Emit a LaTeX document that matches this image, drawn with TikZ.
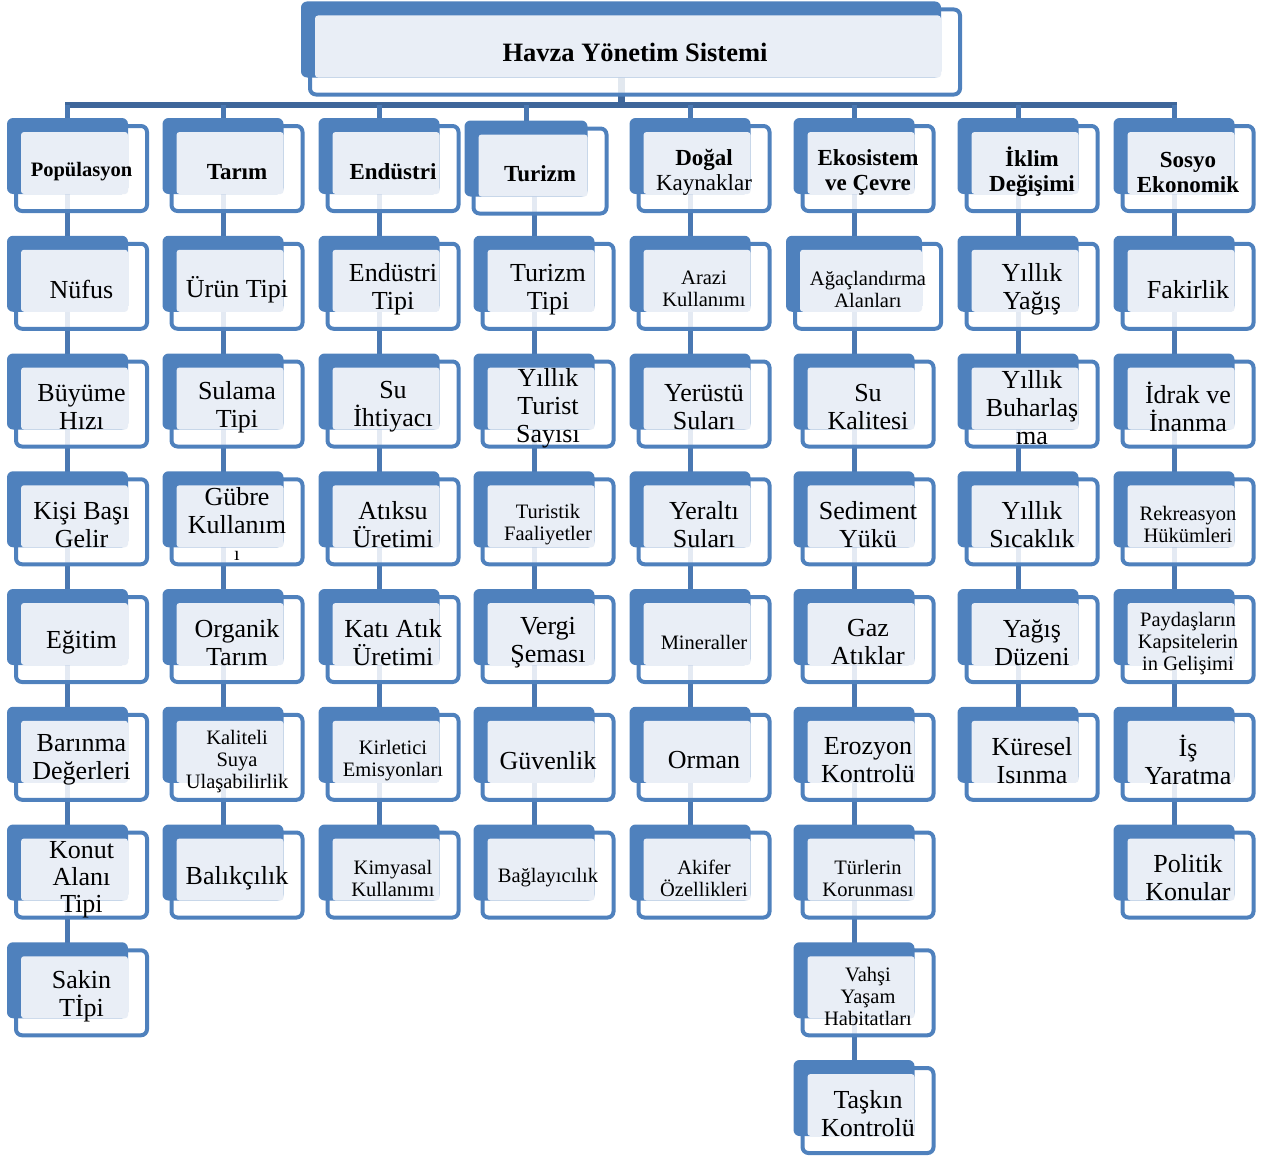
\documentclass[tikz,border=0pt]{standalone}
\usepackage{fontspec}
\setmainfont{Liberation Serif}
\usetikzlibrary{calc}
\definecolor{boxblue}{RGB}{79,129,189}
\definecolor{paleblue}{RGB}{233,238,246}
\definecolor{linkblue}{RGB}{74,120,178}
\definecolor{busblue}{RGB}{62,102,154}
\pgfdeclarelayer{lines}
\pgfdeclarelayer{outl}
\pgfdeclarelayer{back}
\pgfdeclarelayer{light}
\pgfsetlayers{lines,outl,back,light,main}
\tikzset{
  boxnode/.style={inner sep=0pt, align=center, text=black},
  bigtxt/.style={font=\fontsize{26}{28}\selectfont},
  smalltxt/.style={font=\fontsize{20.5}{22}\selectfont},
  headtxt/.style={font=\bfseries\fontsize{23}{25}\selectfont},
  framebox/.style={draw=boxblue, line width=4pt, fill=white, fill opacity=0.85, rounded corners=6pt},
  backfill/.style={fill=boxblue, rounded corners=6pt},
  lightfill/.style={fill=paleblue, rounded corners=3pt},
  conn/.style={draw=linkblue, line width=5pt},
  busline/.style={draw=busblue, line width=5.5pt}
}
% one box: [text drop], name, centre x, centre y, half width, text style, text
\newcommand\cellbox[7][3]{%
  \node[boxnode, #6] (#2) at (#3,#4+#1) {#7};
  \begin{pgfonlayer}{outl}
    \draw[framebox] (#3-#5,#4-42.5) rectangle (#3+#5,#4+42.5);
  \end{pgfonlayer}
  \begin{pgfonlayer}{back}
    \fill[backfill] (#3-#5-9,#4-50.5) rectangle (#3+#5-19,#4+25.5);
  \end{pgfonlayer}
  \begin{pgfonlayer}{light}
    \fill[lightfill] (#3-#5+5,#4-36.5) rectangle (#3+#5-19,#4+25.5);
  \end{pgfonlayer}
}
\begin{document}
\begin{tikzpicture}[x=1pt, y=-1pt]
\useasboundingbox (0,0) rectangle (1268,1156);

% title
\cellbox[0]{top}{635}{52}{325}{font=\bfseries\fontsize{26.5}{28}\selectfont}{Havza Yönetim Sistemi}

% column 1
\cellbox[3.5]{p0}{81.5}{168.5}{65.5}{font=\bfseries\fontsize{20.5}{24}\selectfont}{Popülasyon}
\cellbox{p1}{81.5}{286.25}{65.5}{bigtxt}{Nüfus}
\cellbox{p2}{81.5}{404}{65.5}{bigtxt}{Büyüme\\Hızı}
\cellbox{p3}{81.5}{521.75}{65.5}{bigtxt}{Kişi Başı\\Gelir}
\cellbox{p4}{81.5}{639.5}{65.5}{bigtxt}{Eğitim}
\cellbox{p5}{81.5}{757.25}{65.5}{bigtxt}{Barınma\\Değerleri}
\cellbox[4.5]{p6}{81.5}{875}{65.5}{font=\fontsize{26}{27}\selectfont}{Konut\\Alanı\\Tipi}
\cellbox{p7}{81.5}{992.75}{65.5}{bigtxt}{Sakin\\Tİpi}

% column 2
\cellbox[3.5]{t0}{237}{168.5}{65.5}{headtxt}{Tarım}
\cellbox{t1}{237}{286.25}{65.5}{bigtxt}{Ürün Tipi}
\cellbox{t2}{237}{404}{65.5}{bigtxt}{Sulama\\Tipi}
\cellbox[2.5]{t3}{237}{521.75}{65.5}{font=\fontsize{26}{27.5}\selectfont}{Gübre\\Kullanım\\{\fontsize{20}{20}\selectfont ı}}
\cellbox{t4}{237}{639.5}{65.5}{bigtxt}{Organik\\Tarım}
\cellbox[4]{t5}{237}{757.25}{65.5}{smalltxt}{Kaliteli\\Suya\\Ulaşabilirlik}
\cellbox{t6}{237}{875}{65.5}{bigtxt}{Balıkçılık}

% column 3
\cellbox[3.5]{e0}{393}{168.5}{65.5}{headtxt}{Endüstri}
\cellbox{e1}{393}{286.25}{65.5}{bigtxt}{Endüstri\\Tipi}
\cellbox{e2}{393}{404}{65.5}{bigtxt}{Su\\İhtiyacı}
\cellbox{e3}{393}{521.75}{65.5}{bigtxt}{Atıksu\\Üretimi}
\cellbox{e4}{393}{639.5}{65.5}{bigtxt}{Katı Atık\\Üretimi}
\cellbox{e5}{393}{757.25}{65.5}{smalltxt}{Kirletici\\Emisyonları}
\cellbox{e6}{393}{875}{65.5}{smalltxt}{Kimyasal\\Kullanımı}

% column 4
\cellbox[2.5]{u0}{540}{171}{66.5}{headtxt}{Turizm}
\cellbox{u1}{548}{286.25}{65.5}{bigtxt}{Turizm\\Tipi}
\cellbox[4]{u2}{548}{404}{65.5}{font=\fontsize{26}{28}\selectfont}{Yıllık\\Turist\\Sayısı}
\cellbox{u3}{548}{521.75}{65.5}{smalltxt}{Turistik\\Faaliyetler}
\cellbox{u4}{548}{639.5}{65.5}{bigtxt}{Vergi\\Şeması}
\cellbox{u5}{548}{757.25}{65.5}{bigtxt}{Güvenlik}
\cellbox{u6}{548}{875}{65.5}{smalltxt}{Bağlayıcılık}

% column 5
\cellbox[3.5]{d0}{704}{168.5}{65.5}{font=\fontsize{23}{25}\selectfont}{\textbf{Doğal}\\Kaynaklar}
\cellbox{d1}{704}{286.25}{65.5}{smalltxt}{Arazi\\Kullanımı}
\cellbox{d2}{704}{404}{65.5}{bigtxt}{Yerüstü\\Suları}
\cellbox{d3}{704}{521.75}{65.5}{bigtxt}{Yeraltı\\Suları}
\cellbox{d4}{704}{639.5}{65.5}{smalltxt}{Mineraller}
\cellbox{d5}{704}{757.25}{65.5}{bigtxt}{Orman}
\cellbox{d6}{704}{875}{65.5}{smalltxt}{Akifer\\Özellikleri}

% column 6
\cellbox[3.5]{k0}{868}{168.5}{65.5}{headtxt}{Ekosistem\\ve Çevre}
\cellbox{k1}{868}{286.25}{73}{smalltxt}{Ağaçlandırma\\Alanları}
\cellbox{k2}{868}{404}{65.5}{bigtxt}{Su\\Kalitesi}
\cellbox{k3}{868}{521.75}{65.5}{bigtxt}{Sediment\\Yükü}
\cellbox{k4}{868}{639.5}{65.5}{bigtxt}{Gaz\\Atıklar}
\cellbox{k5}{868}{757.25}{65.5}{bigtxt}{Erozyon\\Kontrolü}
\cellbox{k6}{868}{875}{65.5}{smalltxt}{Türlerin\\Korunması}
\cellbox[4]{k7}{868}{992.75}{65.5}{smalltxt}{Vahşi\\Yaşam\\Habitatları}
\cellbox{k8}{868}{1110.5}{65.5}{bigtxt}{Taşkın\\Kontrolü}

% column 7
\cellbox[3.5]{i0}{1032}{168.5}{65.5}{headtxt}{İklim\\Değişimi}
\cellbox{i1}{1032}{286.25}{65.5}{bigtxt}{Yıllık\\Yağış}
\cellbox[4]{i2}{1032}{404}{65.5}{font=\fontsize{26}{28}\selectfont}{Yıllık\\Buharlaş\\ma}
\cellbox{i3}{1032}{521.75}{65.5}{bigtxt}{Yıllık\\Sıcaklık}
\cellbox{i4}{1032}{639.5}{65.5}{bigtxt}{Yağış\\Düzeni}
\cellbox{i5}{1032}{757.25}{65.5}{bigtxt}{Küresel\\Isınma}

% column 8
\cellbox[3.5]{s0}{1188}{168.5}{65.5}{headtxt}{Sosyo\\Ekonomik}
\cellbox{s1}{1188}{286.25}{65.5}{bigtxt}{Fakirlik}
\cellbox{s2}{1188}{404}{65.5}{bigtxt}{İdrak ve\\İnanma}
\cellbox{s3}{1188}{521.75}{65.5}{smalltxt}{Rekreasyon\\Hükümleri}
\cellbox[4]{s4}{1188}{639.5}{65.5}{smalltxt}{Paydaşların\\Kapsitelerin\\in Gelişimi}
\cellbox{s5}{1188}{757.25}{65.5}{bigtxt}{İş\\Yaratma}
\cellbox{s6}{1188}{875}{65.5}{bigtxt}{Politik\\Konular}

% bus and connectors
\begin{pgfonlayer}{lines}
  \coordinate (bt) at (621,105);
  \foreach \h/\x in {p0/67.5, t0/223, e0/379, u0/526, d0/690, k0/854, i0/1018, s0/1174}
    \coordinate (b\h) at (\x,105);
  \draw[busline, line width=7pt] ($(top.center)+(-14,0)$) -- (bt);
  \draw[busline] ([xshift=-2.5pt]bp0) -- ([xshift=2.5pt]bs0);
  \foreach \h in {p0,t0,e0,u0,d0,k0,i0,s0}
    \draw[conn] (b\h) -- ($(\h.center)+(-14,0)$);
  \foreach \a/\b in {p0/p1,p1/p2,p2/p3,p3/p4,p4/p5,p5/p6,p6/p7,
                     t0/t1,t1/t2,t2/t3,t3/t4,t4/t5,t5/t6,
                     e0/e1,e1/e2,e2/e3,e3/e4,e4/e5,e5/e6,
                     u1/u2,u2/u3,u3/u4,u4/u5,u5/u6,
                     d0/d1,d1/d2,d2/d3,d3/d4,d4/d5,d5/d6,
                     k0/k1,k1/k2,k2/k3,k3/k4,k4/k5,k5/k6,k6/k7,k7/k8,
                     i0/i1,i1/i2,i2/i3,i3/i4,i4/i5,
                     s0/s1,s1/s2,s2/s3,s3/s4,s4/s5,s5/s6}
    \draw[conn] ($(\a.center)+(-14,0)$) -- ($(\b.center)+(-14,0)$);
  \draw[conn] ($(u0.center)+(-6,0)$) -- ($(u1.center)+(-14,0)$);
\end{pgfonlayer}
\end{tikzpicture}
\end{document}
